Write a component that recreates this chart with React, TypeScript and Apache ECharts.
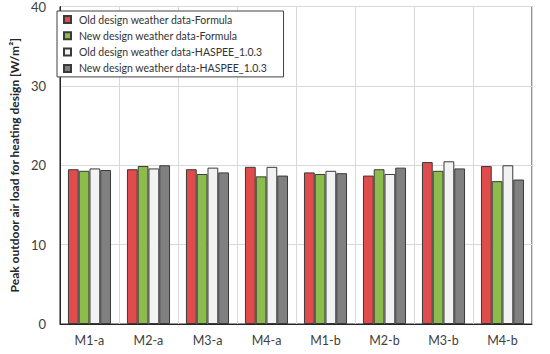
import React, { useEffect, useRef } from "react";
import * as echarts from "echarts";

const categories = ["M1-a", "M2-a", "M3-a", "M4-a", "M1-b", "M2-b", "M3-b", "M4-b"];
const seriesNames = [
  "Old design weather data-Formula",
  "New design weather data-Formula",
  "Old design weather data-HASPEE_1.0.3",
  "New design weather data-HASPEE_1.0.3",
];
const oldFormula = [19.5, 19.5, 19.5, 19.8, 19.1, 18.7, 20.4, 19.9];
const newFormula = [19.3, 19.9, 18.9, 18.6, 18.9, 19.5, 19.3, 18.0];
const oldHaspee = [19.6, 19.6, 19.7, 19.8, 19.3, 18.9, 20.5, 20.0];
const newHaspee = [19.4, 20.0, 19.1, 18.7, 19.0, 19.7, 19.6, 18.2];
const yTicks = [0, 10, 20, 30, 40];
const colors = ["#e04b4b", "#8cbd4c", "#f2f2f2", "#808080"];

export default function App() {
  const ref = useRef<HTMLDivElement>(null);
  useEffect(() => {
    if (!ref.current) return;
    const chart = echarts.init(ref.current, null, { renderer: "svg" });
    const font = "Lato, 'Open Sans', sans-serif";
    const data = [oldFormula, newFormula, oldHaspee, newHaspee];
    chart.setOption({
      animation: false,
      backgroundColor: "#ffffff",
      textStyle: { fontFamily: font },
      grid: {
        left: 51,
        right: 18,
        top: 6,
        bottom: 30,
        show: true,
        borderColor: "#262626",
        borderWidth: 1,
      },
      legend: {
        orient: "vertical",
        left: 57,
        top: 11,
        data: seriesNames,
        icon: "rect",
        itemWidth: 7,
        itemHeight: 7,
        itemGap: 3.3,
        padding: [2, 16, 2, 6],
        backgroundColor: "#ffffff",
        borderColor: "#404040",
        borderWidth: 1,
        borderRadius: 0,
        textStyle: { fontFamily: font, fontSize: 10.5, color: "#333333", lineHeight: 13, padding: [0, 0, 0, 3] },
      },
      xAxis: {
        type: "category",
        data: categories,
        axisTick: { show: false },
        axisLine: { lineStyle: { color: "#262626", width: 1 } },
        axisLabel: { fontFamily: font, fontSize: 12.5, color: "#404040", margin: 10 },
        splitLine: { show: true, lineStyle: { color: "#d9d9d9", width: 1 } },
      },
      yAxis: {
        type: "value",
        min: yTicks[0],
        max: yTicks[yTicks.length - 1],
        interval: 10,
        name: "Peak outdoor air load for heating design [W/m²]",
        nameLocation: "middle",
        nameGap: 27,
        nameTextStyle: { fontFamily: font, fontSize: 12, fontWeight: "bold", color: "#262626" },
        axisLine: { show: true, lineStyle: { color: "#262626", width: 1 } },
        axisTick: { show: false },
        axisLabel: { fontFamily: font, fontSize: 13, color: "#404040", margin: 14 },
        splitLine: { show: true, lineStyle: { color: "#d9d9d9", width: 1 } },
      },
      series: seriesNames.map((name, i) => ({
        name,
        type: "bar",
        data: data[i],
        barGap: "0%",
        barCategoryGap: "27%",
        itemStyle: { color: colors[i], borderColor: "#3a3a3a", borderWidth: 1 },
      })),
    });
    return () => chart.dispose();
  }, []);
  return <div ref={ref} style={{ position: "fixed", left: 0, top: 0, width: 550, height: 354 }} />;
}
